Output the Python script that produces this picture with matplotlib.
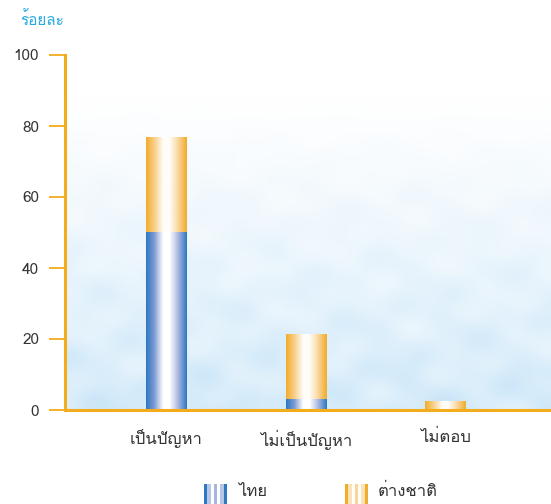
import numpy as np
import matplotlib
matplotlib.use('Agg')
import matplotlib.pyplot as plt
from matplotlib import font_manager
from matplotlib.ft2font import FT2Font
from matplotlib.colors import LinearSegmentedColormap

# ข้อมูล (ร้อยละ)
categories = ['เป็นปัญหา', 'ไม่เป็นปัญหา', 'ไม่ตอบ']
thai = [50.1, 3.1, 0.0]
foreign = [26.8, 18.3, 2.5]
series_names = ['ไทย', 'ต่างชาติ']
yticks = [0, 20, 40, 60, 80, 100]

# หาฟอนต์ที่มีอักษรไทย
thai_family = None
for f in font_manager.fontManager.ttflist:
    try:
        if 0x0E01 in FT2Font(f.fname).get_charmap():
            thai_family = f.name
            break
    except Exception:
        pass
families = ([thai_family] if thai_family else []) + ['DejaVu Sans']
plt.rcParams['font.family'] = families

ORANGE = '#f2ac1c'
TXT = '#333333'

blue_cmap = LinearSegmentedColormap.from_list('b', [
    (0.0, '#2f78c2'), (0.2, '#7f9bd2'), (0.42, '#ffffff'), (0.58, '#ffffff'),
    (0.8, '#a7b5df'), (1.0, '#2f78c2')])
orange_cmap = LinearSegmentedColormap.from_list('o', [
    (0.0, '#f2ac2c'), (0.2, '#f8cf88'), (0.42, '#fffdf8'), (0.58, '#fffdf8'),
    (0.8, '#f9d59a'), (1.0, '#f2ac2c')])

fig = plt.figure(figsize=(5.51, 5.04), dpi=100)
ax = fig.add_axes([65 / 551, 94 / 504, 486 / 551, 355 / 504])

xmin, xmax = -0.725, 2.755
ax.set_xlim(xmin, xmax)
ax.set_ylim(0, 100)

# พื้นหลังท้องฟ้า: ขาวด้านบน ฟ้าอ่อนมีเมฆด้านล่าง
ny, nx = 300, 400
yy, xx = np.mgrid[0:1:ny * 1j, 0:1:nx * 1j]   # yy = 0 ที่ขอบบน
base = np.clip((yy - 0.12) / 0.85, 0, 1) ** 1.1
wave = (0.16 * np.sin(xx * 23 + yy * 9) * np.sin(yy * 31 - xx * 5)
        + 0.10 * np.sin(xx * 47 - yy * 17) * np.cos(yy * 41 + xx * 13))
amt = np.clip(base * (0.8 + wave), 0, 1)
sky = np.array([0.80, 0.905, 0.975])
white = np.array([1.0, 1.0, 1.0])
bg = white[None, None, :] * (1 - amt[..., None]) + sky[None, None, :] * amt[..., None]
ax.imshow(bg, extent=[xmin, xmax, 0, 100], origin='upper', aspect='auto', zorder=0)

# แท่งกราฟแบบไล่สี
width = 0.29
x = np.arange(len(categories))
grad = np.linspace(0, 1, 64)[None, :]
bars1 = ax.bar(x, thai, width, color='none', zorder=2)
bars2 = ax.bar(x, foreign, width, bottom=thai, color='none', zorder=2)
for bars, cmap in [(bars1, blue_cmap), (bars2, orange_cmap)]:
    for r in bars:
        if r.get_height() <= 0:
            continue
        x0, y0 = r.get_x(), r.get_y()
        im = ax.imshow(grad, cmap=cmap, aspect='auto', zorder=2,
                       extent=[x0, x0 + r.get_width(), y0, y0 + r.get_height()])
        im.set_clip_path(r)

ax.set_xlim(xmin, xmax)
ax.set_ylim(0, 100)

for s in ['top', 'right']:
    ax.spines[s].set_visible(False)
for s in ['left', 'bottom']:
    ax.spines[s].set_color(ORANGE)
    ax.spines[s].set_linewidth(2.2)
    ax.spines[s].set_zorder(3)

ax.set_yticks(yticks)
ax.set_yticklabels([str(v) for v in yticks], fontsize=11, color=TXT)
ax.tick_params(axis='y', length=11.5, width=1.3, color=ORANGE, pad=7)
ax.set_xticks(x)
ax.set_xticklabels(categories, fontsize=12, color=TXT)
ax.tick_params(axis='x', length=0, pad=14)

fig.text(20 / 551, 1 - 20 / 504, 'ร้อยละ', fontsize=11, color='#29abe2',
         ha='left', va='center')

# คำอธิบายสัญลักษณ์
stripe = np.array([[0.0, 0.3, 0.55, 0.8, 0.55, 0.3, 0.0]])
leg_items = [(204, blue_cmap, series_names[0], 238),
             (345, orange_cmap, series_names[1], 378)]
for px, cmap, label, tx in leg_items:
    lax = fig.add_axes([px / 551, 0 / 504, 23 / 551, 20 / 504])
    lax.imshow(stripe, cmap=cmap, aspect='auto', interpolation='nearest',
               vmin=0, vmax=1)
    lax.axis('off')
    fig.text(tx / 551, 1 - 492 / 504, label, fontsize=12, color=TXT,
             ha='left', va='center')

fig.savefig('out.png', dpi=100)
